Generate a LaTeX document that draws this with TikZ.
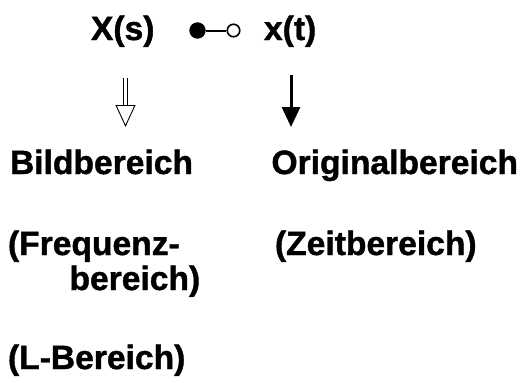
\documentclass[tikz,border=0pt]{standalone}
\usepackage{fontspec}
\setmainfont{Liberation Sans}[BoldFeatures={FakeBold=1.2}]
\usetikzlibrary{arrows.meta}
\tikzset{
  lbl/.style={anchor=base west, inner sep=0pt, outer sep=0pt, font=\fontsize{33.6}{40}\selectfont\bfseries},
  filleddot/.style={circle, fill=black, draw=black, line width=0.8pt, minimum size=15.5pt, inner sep=0pt},
  opendot/.style={circle, fill=white, draw=black, line width=1.6pt, minimum size=12.5pt, inner sep=0pt},
  solidarrow/.style={line width=3pt, -{Triangle[width=18pt, length=20pt]}},
  hollowarrow/.style={double, double distance=2.4pt, line width=0.9pt, -{Triangle[open, width=20pt, length=22pt, line width=0.9pt]}}
}
\begin{document}
\begin{tikzpicture}[x=1pt, y=-1pt]
\useasboundingbox (0,0) rectangle (528,383);
\fill[white] (0,0) rectangle (528,383);
\node[lbl] (Xs) at (91,40) {X(s)};
\node[lbl] (xt) at (264,40) {x(t)};
\node[filleddot] (fd) at (197.5,30.5) {};
\node[opendot] (od) at (233.5,30.5) {};
\draw[line width=2pt] (fd) -- (od);
\coordinate (h1) at (125.5,78);
\coordinate (h2) at (125.5,127);
\draw[hollowarrow] (h1) -- (h2);
\coordinate (s1) at (291,75);
\coordinate (s2) at (291,127);
\draw[solidarrow] (s1) -- (s2);
\node[lbl] (bild) at (10,174) {Bildbereich};
\node[lbl] (orig) at (271.5,174) {Originalbereich};
\node[lbl] (freq1) at (8,255) {(Frequenz-};
\node[lbl] (freq2) at (69.5,290) {bereich)};
\node[lbl] (zeit) at (275,255) {(Zeitbereich)};
\node[lbl] (lber) at (8,369) {(L-Bereich)};
\end{tikzpicture}
\end{document}
